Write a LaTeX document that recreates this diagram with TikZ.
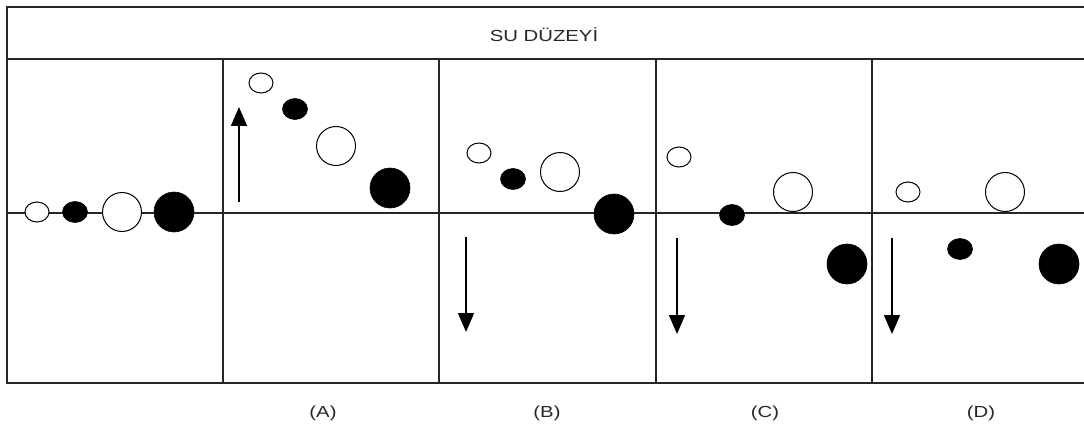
\documentclass[tikz,border=0pt]{standalone}
\usepackage{fontspec}
\setmainfont{Liberation Sans}
\usetikzlibrary{arrows.meta,shapes.geometric}
\tikzset{
  frame/.style={line width=1.7pt,draw=black!85},
  sopen/.style={ellipse,draw,line width=1pt,fill=white,inner sep=0pt,minimum width=24pt,minimum height=20pt},
  sfill/.style={ellipse,draw,fill=black,line width=0.6pt,inner sep=0pt,minimum width=25pt,minimum height=21pt},
  bopen/.style={circle,draw,line width=1pt,fill=white,inner sep=0pt,minimum size=39pt},
  bfill/.style={circle,draw,fill=black,line width=0.6pt,inner sep=0pt,minimum size=40pt},
  motion/.style={line width=1.6pt,-{Triangle[length=19pt,width=16pt]}},
  lbl/.style={font=\fontsize{16pt}{18pt}\selectfont,text=black!85,inner sep=0pt}
}
\newcommand{\wide}[1]{\scalebox{1.27}[1]{#1}}
\begin{document}
\begin{tikzpicture}[x=1pt,y=-1pt]
\useasboundingbox (0,0) rectangle (1084,433);
% frame
\draw[frame] (1084,7) -- (7,7) -- (7,383) -- (1084,383);
\draw[frame] (7,59) -- (1084,59);
\draw[frame] (7,213) -- (1084,213);
\foreach \x in {223,439,656,872} \draw[frame] (\x,59) -- (\x,383);
% header
\node[lbl] (title) at (544,35) {\wide{SU DÜZEYİ}};
% panel 0
\node[sopen] (o1) at (37,212) {};
\node[sfill] (f1) at (75,212) {};
\node[bopen] (o2) at (122,212) {};
\node[bfill] (f2) at (174,212) {};
% panel A
\node[sopen] (ao1) at (261,83) {};
\node[sfill] (af1) at (295,109) {};
\node[bopen] (ao2) at (336,146) {};
\node[bfill] (af2) at (390,188) {};
\coordinate (aS) at (239,202);
\coordinate (aE) at (239,107);
\draw[motion] (aS) -- (aE);
% panel B
\node[sopen] (bo1) at (479,153) {};
\node[sfill] (bf1) at (513,179) {};
\node[bopen] (bo2) at (560,172) {};
\node[bfill] (bf2) at (614,214) {};
\coordinate (bS) at (466,237);
\coordinate (bE) at (466,332);
\draw[motion] (bS) -- (bE);
% panel C
\node[sopen] (co1) at (679,157) {};
\node[sfill] (cf1) at (732,215) {};
\node[bopen] (co2) at (793,192) {};
\node[bfill] (cf2) at (847,264) {};
\coordinate (cS) at (677,238);
\coordinate (cE) at (677,334);
\draw[motion] (cS) -- (cE);
% panel D
\node[sopen] (do1) at (908,192) {};
\node[bopen] (do2) at (1005,192) {};
\node[sfill] (df1) at (960,249) {};
\node[bfill] (df2) at (1059,264) {};
\coordinate (dS) at (892,238);
\coordinate (dE) at (892,334);
\draw[motion] (dS) -- (dE);
% labels
\node[lbl] (la) at (323,413) {\wide{(A)}};
\node[lbl] (lb) at (547,413) {\wide{(B)}};
\node[lbl] (lc) at (765,413) {\wide{(C)}};
\node[lbl] (ld) at (981,413) {\wide{(D)}};
\end{tikzpicture}
\end{document}
